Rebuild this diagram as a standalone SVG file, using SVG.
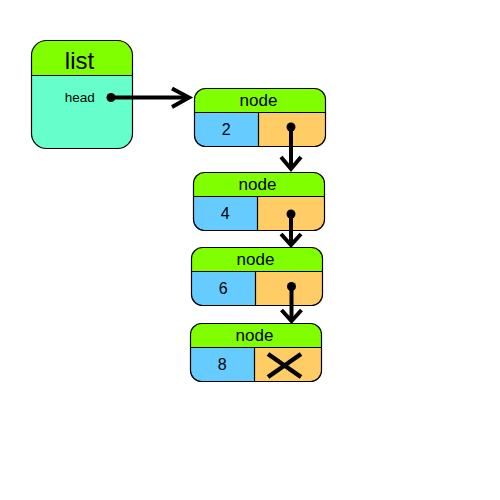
<svg xmlns="http://www.w3.org/2000/svg" width="500" height="500" viewBox="0 0 500 500">
<defs>
<style>
.hdr{fill:#80ff00}
.blue{fill:#66ccff}
.orange{fill:#ffcc66}
.teal{fill:#66ffcc}
.outline{fill:none;stroke:#000;stroke-width:1.2}
.ln{stroke:#000;stroke-width:1.2}
.t{font-family:"Liberation Sans",Arial,sans-serif;fill:#000;text-anchor:middle}
.arr{fill:none;stroke:#000;stroke-width:4;stroke-linecap:butt;stroke-linejoin:miter}
.x{fill:none;stroke:#000;stroke-width:4.5}
</style>
<clipPath id="c1"><rect x="194.5" y="88.5" width="131" height="58" rx="11"/></clipPath>
<clipPath id="c2"><rect x="193.5" y="172.5" width="131" height="58" rx="11"/></clipPath>
<clipPath id="c3"><rect x="191.5" y="247.5" width="131" height="58" rx="11"/></clipPath>
<clipPath id="c4"><rect x="190.5" y="323.5" width="131" height="58" rx="11"/></clipPath>
<clipPath id="cl"><rect x="31.5" y="40.5" width="101" height="108" rx="15"/></clipPath>
</defs>
<rect width="500" height="500" fill="#fff"/>

<g id="list">
<g clip-path="url(#cl)">
<rect class="hdr" x="31" y="40" width="102" height="35.5"/>
<rect class="teal" x="31" y="75.5" width="102" height="74"/>
</g>
<line class="ln" x1="31.5" y1="75.5" x2="133" y2="75.5"/>
<rect class="outline" x="31.5" y="40.5" width="101" height="108" rx="15"/>
<text class="t" x="79.5" y="68.5" font-size="24">list</text>
<text class="t" x="79.7" y="101.7" font-size="13.5">head</text>
</g>

<g id="node1">
<g clip-path="url(#c1)">
<rect class="hdr" x="194" y="88" width="132" height="24.5"/>
<rect class="blue" x="194" y="112.5" width="64.5" height="35"/>
<rect class="orange" x="258.5" y="112.5" width="68" height="35"/>
</g>
<line class="ln" x1="194.5" y1="112.5" x2="326" y2="112.5"/>
<line class="ln" x1="258.5" y1="112.5" x2="258.5" y2="146.5"/>
<rect class="outline" x="194.5" y="88.5" width="131" height="58" rx="11"/>
<text class="t" x="258.5" y="106" font-size="17">node</text>
<text class="t" x="226.3" y="135" font-size="16">2</text>
</g>

<g id="node2">
<g clip-path="url(#c2)">
<rect class="hdr" x="193" y="172" width="132" height="24.5"/>
<rect class="blue" x="193" y="196.5" width="64.5" height="35"/>
<rect class="orange" x="257.5" y="196.5" width="68" height="35"/>
</g>
<line class="ln" x1="193.5" y1="196.5" x2="325" y2="196.5"/>
<line class="ln" x1="257.5" y1="196.5" x2="257.5" y2="230.5"/>
<rect class="outline" x="193.5" y="172.5" width="131" height="58" rx="11"/>
<text class="t" x="257.5" y="190" font-size="17">node</text>
<text class="t" x="225.3" y="219" font-size="16">4</text>
</g>

<g id="node3">
<g clip-path="url(#c3)">
<rect class="hdr" x="191" y="247" width="132" height="24.5"/>
<rect class="blue" x="191" y="271.5" width="64.5" height="35"/>
<rect class="orange" x="255.5" y="271.5" width="68" height="35"/>
</g>
<line class="ln" x1="191.5" y1="271.5" x2="323" y2="271.5"/>
<line class="ln" x1="255.5" y1="271.5" x2="255.5" y2="305.5"/>
<rect class="outline" x="191.5" y="247.5" width="131" height="58" rx="11"/>
<text class="t" x="255.5" y="265" font-size="17">node</text>
<text class="t" x="223.3" y="294" font-size="16">6</text>
</g>

<g id="node4">
<g clip-path="url(#c4)">
<rect class="hdr" x="190" y="323" width="132" height="24.5"/>
<rect class="blue" x="190" y="347.5" width="64.5" height="35"/>
<rect class="orange" x="254.5" y="347.5" width="68" height="35"/>
</g>
<line class="ln" x1="190.5" y1="347.5" x2="322" y2="347.5"/>
<line class="ln" x1="254.5" y1="347.5" x2="254.5" y2="381.5"/>
<rect class="outline" x="190.5" y="323.5" width="131" height="58" rx="11"/>
<text class="t" x="254.5" y="341" font-size="17">node</text>
<text class="t" x="222.3" y="370" font-size="16">8</text>
<line class="x" x1="268" y1="354" x2="301" y2="377"/>
<line class="x" x1="301" y1="354" x2="268" y2="377"/>
</g>

<g id="connectors">
<circle cx="111" cy="97.5" r="4.5"/>
<line class="arr" x1="111" y1="97.5" x2="188" y2="97.5"/>
<polyline class="arr" points="172,88.5 189,97.5 172,107"/>

<circle cx="291" cy="127" r="4.5"/>
<line class="arr" x1="291" y1="127" x2="291" y2="169"/>
<polyline class="arr" points="281,157 291,169 301,157"/>

<circle cx="291" cy="214" r="4.5"/>
<line class="arr" x1="291" y1="214" x2="291" y2="245"/>
<polyline class="arr" points="281,234 291,245 301,234"/>

<circle cx="291.5" cy="286.5" r="4.5"/>
<line class="arr" x1="291.5" y1="286.5" x2="291.5" y2="321"/>
<polyline class="arr" points="281.5,310 291.5,321 301.5,310"/>
</g>
</svg>
